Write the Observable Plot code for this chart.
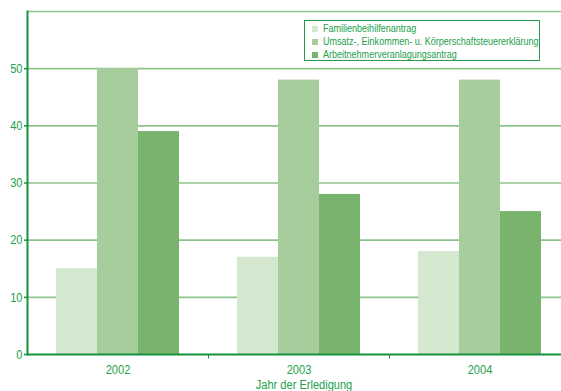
<!DOCTYPE html>
<html>
<head>
<meta charset="utf-8">
<script src="https://cdn.jsdelivr.net/npm/d3@7"></script>
<script src="https://cdn.jsdelivr.net/npm/@observablehq/plot@0.6"></script>
<style>
  html, body { margin: 0; padding: 0; background: #fff; overflow: hidden; }
  #chart { position: relative; width: 561px; height: 391px; overflow: hidden; }
  .legend {
    position: absolute; left: 304px; top: 20px; width: 234px; height: 39px;
    border: 1.6px solid #2a9a48; background: #fff;
    font-family: "Liberation Sans", Arial, sans-serif;
    font-size: 11px; color: #22a04a;
  }
  .legend .row { position: absolute; left: 7px; height: 13px; line-height: 13px; white-space: nowrap; }
  .legend .sw { position: absolute; left: 0; top: 4px; width: 6px; height: 6px; }
  .legend .lbl { position: absolute; left: 11px; top: 0; transform: scaleX(0.82); transform-origin: left center; }
</style>
</head>
<body>
<div id="chart"></div>
<script>
// Bearbeitungsdauer nach Verfahrensart und Jahr der Erledigung
const years = ["2002", "2003", "2004"];
const series = [
  "Familienbeihilfenantrag",
  "Umsatz-, Einkommen- u. Körperschaftsteuererklärung",
  "Arbeitnehmerveranlagungsantrag"
];
const familienbeihilfe = [15, 17, 18];
const umsatzEinkommen = [50, 48, 48];
const arbeitnehmer = [39, 28, 25];
const seriesColors = ["#d4e7cf", "#a6cd9b", "#78b46e"];
const yTicks = [0, 10, 20, 30, 40, 50];
const gridValues = [10, 20, 30, 40, 50, 60];
const xTitle = "Jahr der Erledigung";

const textGreen = "#22a04a";
const axisGreen = "#16923c";
const gridGreen = "#8cc589";
const fontSize = 13.5;

const valuesBySeries = [familienbeihilfe, umsatzEinkommen, arbeitnehmer];
const table = years.flatMap((year, i) =>
  series.map((s, j) => ({year, series: s, value: valuesBySeries[j][i]}))
);

// short downward tick drawn at the left edge of a facet
const boundaryTick = {
  draw(context) {
    context.moveTo(0, 0);
    context.lineTo(0, 4);
  }
};

// squeeze text horizontally for a condensed look
function condensed(index, scales, values, dimensions, context, next) {
  const g = next(index, scales, values, dimensions, context);
  g.querySelectorAll("text").forEach((t) => {
    t.setAttribute("transform", (t.getAttribute("transform") || "") + " scale(0.82,1)");
  });
  return g;
}

const chart = Plot.plot({
  width: 561,
  height: 391,
  marginLeft: 27,
  marginRight: 0,
  marginTop: 11,
  marginBottom: 37,
  style: {
    fontFamily: '"Liberation Sans", Arial, sans-serif',
    fontSize: fontSize + "px",
    color: textGreen,
    background: "transparent",
    overflow: "hidden"
  },
  fx: {domain: years, range: [27, 570], padding: 0, axis: null},
  x: {domain: series, paddingInner: 0, paddingOuter: 0.7, axis: null},
  y: {domain: [0, 60], axis: null},
  color: {domain: series, range: seriesColors},
  marks: [
    Plot.ruleY(gridValues, {stroke: gridGreen, strokeWidth: 1.6}),
    Plot.barY(table, {fx: "year", x: "series", y: "value", fill: "series"}),
    Plot.ruleY([0], {stroke: axisGreen, strokeWidth: 2}),
    Plot.frame({anchor: "left", fx: () => years[0], stroke: axisGreen, strokeWidth: 2}),
    Plot.dot(years.slice(1), {fx: (d) => d, frameAnchor: "bottom-left", symbol: boundaryTick, stroke: axisGreen, strokeWidth: 1, fill: "none"}),
    Plot.axisY({ticks: yTicks, tickSize: 3, tickPadding: 2, stroke: axisGreen, fill: textGreen, strokeWidth: 1.5, fontSize, label: null, render: condensed}),
    Plot.axisFx({anchor: "bottom", tickSize: 0, tickPadding: 10, fill: textGreen, fontSize, label: null, render: condensed}),
    Plot.text([xTitle], {facet: "super", frameAnchor: "bottom", text: (d) => d, textAnchor: "middle", lineAnchor: "middle", dx: 5, dy: 30, fill: textGreen, fontSize, render: condensed})
  ]
});

const root = document.getElementById("chart");
root.appendChild(chart);

// legend box in the upper right
const legend = document.createElement("div");
legend.className = "legend";
series.forEach((s, i) => {
  const row = document.createElement("div");
  row.className = "row";
  row.style.top = (1 + i * 13) + "px";
  const sw = document.createElement("span");
  sw.className = "sw";
  sw.style.background = seriesColors[i];
  const lbl = document.createElement("span");
  lbl.className = "lbl";
  lbl.textContent = s;
  row.appendChild(sw);
  row.appendChild(lbl);
  legend.appendChild(row);
});
root.appendChild(legend);
</script>
</body>
</html>
